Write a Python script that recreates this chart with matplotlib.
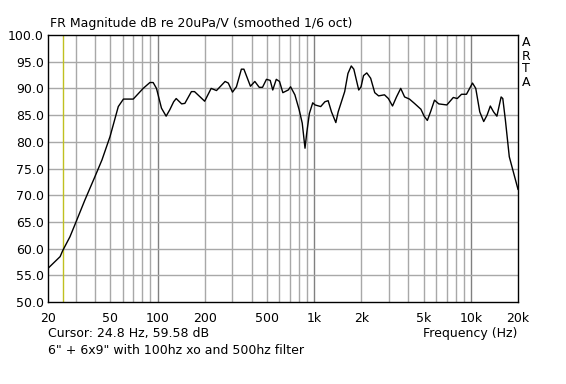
import matplotlib
matplotlib.use("Agg")
import matplotlib.pyplot as plt
from matplotlib.ticker import FixedLocator, NullFormatter

# Frequency response
freq_hz = [20, 23.9, 24.8, 27.6, 30.2, 34.4, 39.9, 44.2, 49.8, 56.2, 60.6, 70, 81,
           89.4, 93.8, 98.5, 106, 113.5, 119.8, 126.8, 131.6, 142.6, 149.5, 164.6,
           172.3, 200, 220, 238, 270, 283, 301, 319, 343, 356, 392, 418, 446, 468,
           496, 524, 544, 573, 601, 631, 683, 707, 753, 802, 839, 874, 896, 932,
           979, 1013, 1101, 1171, 1228, 1290, 1375, 1423, 1566, 1643, 1725, 1791,
           1925, 1991, 2066, 2167, 2294, 2436, 2578, 2810, 2977, 3163, 3353, 3568,
           3778, 4057, 4363, 4800, 5035, 5276, 5530, 5863, 6240, 7028, 7728, 8189,
           8720, 9378, 10245, 10750, 11402, 12083, 12695, 13316, 13967, 14665,
           15606, 15994, 16612, 17596, 20000]
mag_db = [56.3, 58.5, 59.6, 62.2, 65.0, 69.1, 73.5, 76.6, 81.0, 86.6, 88.0, 88.0, 90.0,
          91.1, 91.1, 90.0, 86.3, 84.8, 86.0, 87.5, 88.1, 87.1, 87.2, 89.4,
          89.4, 87.6, 90.0, 89.6, 91.3, 91.0, 89.3, 90.3, 93.6, 93.6, 90.4, 91.3, 90.2, 90.2,
          91.7, 91.5, 89.7, 91.7, 91.3, 89.2, 89.7, 90.3, 88.8, 86.0, 83.5, 78.8, 81.6, 85.3,
          87.3, 86.9, 86.6, 87.5, 87.7, 85.6, 83.6, 85.6, 89.4, 92.8, 94.2, 93.6,
          89.7, 90.3, 92.4, 92.9, 91.9, 89.2, 88.6, 88.8, 88.1, 86.7, 88.4, 90.0,
          88.4, 88.0, 87.2, 86.1, 84.8, 84.0, 85.6, 87.8, 87.1, 86.9, 88.3, 88.1,
          88.9, 88.9, 91.0, 90.0, 85.6, 83.8, 85.0, 86.7, 85.6, 84.8,
          88.4, 88.1, 84.1, 77.2, 71.1]

x_ticks = [20, 50, 100, 200, 500, 1000, 2000, 5000, 10000, 20000]
x_labels = ["20", "50", "100", "200", "500", "1k", "2k", "5k", "10k", "20k"]
y_ticks = [50, 55, 60, 65, 70, 75, 80, 85, 90, 95, 100]
cursor_hz = 24.8

plt.rcParams['font.family'] = ['DejaVu Sans']
fs = 9

fig = plt.figure(figsize=(5.66, 3.84), dpi=100)
ax = fig.add_axes([48 / 566, 82 / 384, 470 / 566, 267 / 384])

ax.set_xscale("log")
ax.set_xlim(20, 20000)
ax.set_ylim(50, 100)

# grid lines
minor = [m * d for d in (10, 100, 1000, 10000) for m in range(2, 10)
         if 20 < m * d < 20000 and m * d not in (100, 1000, 10000)]
for f in minor:
    ax.axvline(f, color="#a8a8a8", lw=1, zorder=1)
for f in (100, 1000, 10000):
    ax.axvline(f, color="#808080", lw=1, zorder=1)
for y in y_ticks[1:-1]:
    ax.axhline(y, color="#a8a8a8", lw=1, zorder=1)
ax.axvline(cursor_hz, color="#c0c020", lw=1, zorder=2)

ax.plot(freq_hz, mag_db, color="black", lw=1, zorder=3)

ax.xaxis.set_major_locator(FixedLocator(x_ticks))
ax.xaxis.set_minor_locator(FixedLocator([]))
ax.xaxis.set_minor_formatter(NullFormatter())
ax.set_xticklabels(x_labels, fontsize=fs)
ax.set_yticks(y_ticks)
ax.set_yticklabels([f"{v:.1f}" for v in y_ticks], fontsize=fs)
ax.tick_params(axis="both", length=0, pad=3)
ax.tick_params(axis="x", pad=7)
for s in ax.spines.values():
    s.set_color("black")
    s.set_linewidth(1)

fig.text(50 / 566, 1 - 23 / 384, "FR Magnitude dB re 20uPa/V (smoothed 1/6 oct)",
         fontsize=fs, va="center", ha="left")
fig.text(48 / 566, 1 - 334 / 384, "Cursor: 24.8 Hz, 59.58 dB",
         fontsize=fs, va="center", ha="left")
fig.text(48 / 566, 1 - 351 / 384, "6\" + 6x9\" with 100hz xo and 500hz filter",
         fontsize=fs, va="center", ha="left")
fig.text(517 / 566, 1 - 334 / 384, "Frequency (Hz)",
         fontsize=fs, va="center", ha="right")
for i, ch in enumerate("ARTA"):
    fig.text(526 / 566, 1 - (43 + i * 13) / 384, ch, fontsize=fs,
             va="center", ha="center")

fig.savefig("out.png", dpi=100)
